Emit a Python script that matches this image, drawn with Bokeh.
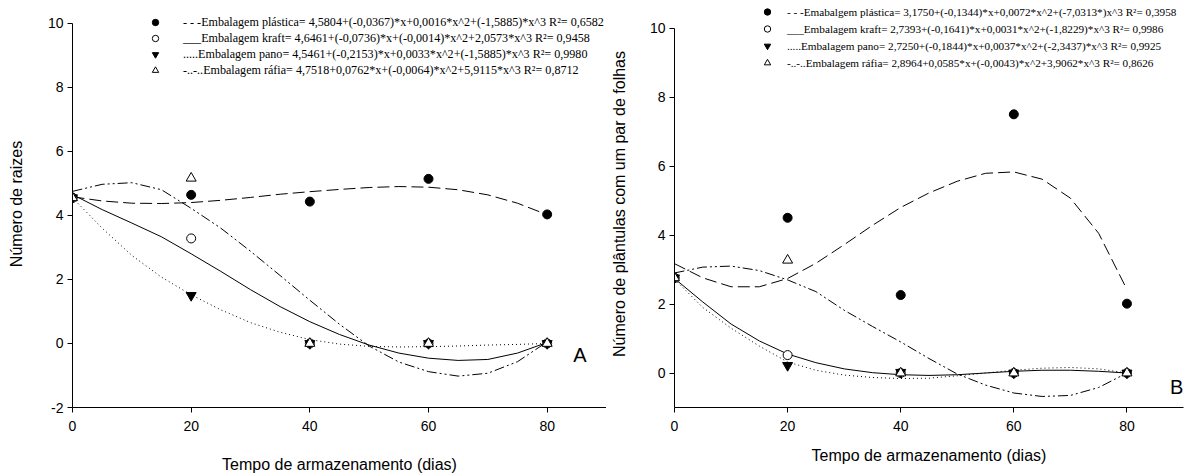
from bokeh.plotting import figure
from bokeh.layouts import row
from bokeh.models import Legend, LegendItem, Label, FixedTicker, Range1d
from bokeh.embed import file_html
from bokeh.resources import INLINE
from bokeh.core.properties import value

# ---------------- data ----------------
dias = [0, 20, 40, 60, 80]

# Panel A - Número de raizes (observed means)
a_plastica = [4.55, 4.64, 4.43, 5.14, 4.03]
a_kraft = [4.55, 3.28, 0.0, 0.0, 0.0]
a_pano = [4.55, 1.50, 0.0, 0.0, 0.0]
a_rafia = [4.55, 5.16, 0.0, 0.0, 0.0]

# Panel B - Número de plântulas com um par de folhas (observed means)
b_plastica = [2.76, 4.50, 2.26, 7.50, 2.01]
b_kraft = [2.76, 0.52, 0.0, 0.0, 0.0]
b_pano = [2.76, 0.22, 0.02, 0.0, 0.0]
b_rafia = [2.76, 3.27, 0.0, 0.0, 0.0]

# fitted curves, values every 5 days
curva_dias = [0, 5, 10, 15, 20, 25, 30, 35, 40, 45, 50, 55, 60, 65, 70, 75, 80]
a_fit_plastica = [4.58, 4.45, 4.38, 4.37, 4.40, 4.47, 4.56, 4.66, 4.74, 4.81, 4.87, 4.90, 4.88, 4.80, 4.64, 4.38, 4.02]
a_fit_kraft = [4.65, 4.18, 3.76, 3.33, 2.80, 2.25, 1.68, 1.15, 0.68, 0.28, -0.05, -0.30, -0.46, -0.53, -0.50, -0.30, 0.03]
a_fit_pano = [4.55, 3.60, 2.75, 2.07, 1.52, 1.05, 0.65, 0.35, 0.12, -0.02, -0.09, -0.11, -0.10, -0.08, -0.05, -0.03, 0.0]
a_fit_rafia = [4.75, 4.97, 5.02, 4.80, 4.22, 3.60, 2.88, 2.12, 1.35, 0.60, -0.08, -0.58, -0.88, -1.02, -0.93, -0.57, 0.05]

b_fit_plastica = [3.17, 2.76, 2.50, 2.50, 2.74, 3.18, 3.72, 4.28, 4.80, 5.22, 5.56, 5.79, 5.83, 5.62, 5.07, 4.05, 2.42]
b_fit_kraft = [2.74, 2.06, 1.42, 0.93, 0.55, 0.30, 0.12, 0.01, -0.05, -0.07, -0.05, 0.0, 0.05, 0.08, 0.08, 0.05, 0.0]
b_fit_pano = [2.72, 1.90, 1.30, 0.78, 0.32, 0.08, -0.06, -0.13, -0.16, -0.15, -0.08, 0.0, 0.08, 0.14, 0.16, 0.12, 0.0]
b_fit_rafia = [2.90, 3.07, 3.10, 2.97, 2.70, 2.36, 1.82, 1.35, 0.90, 0.42, -0.03, -0.35, -0.58, -0.68, -0.65, -0.42, 0.0]

x_ticks = [0, 20, 40, 60, 80]
a_y_ticks = [-2, 0, 2, 4, 6, 8, 10]
b_y_ticks = [0, 2, 4, 6, 8, 10]

legenda_a = [
    "- - -Embalagem plástica= 4,5804+(-0,0367)*x+0,0016*x^2+(-1,5885)*x^3 R²= 0,6582",
    "___Embalagem kraft= 4,6461+(-0,0736)*x+(-0,0014)*x^2+2,0573*x^3 R²= 0,9458",
    ".....Embalagem pano= 4,5461+(-0,2153)*x+0,0033*x^2+(-1,5885)*x^3 R²= 0,9980",
    "-..-..Embalagem ráfia= 4,7518+0,0762*x+(-0,0064)*x^2+5,9115*x^3 R²= 0,8712",
]
legenda_b = [
    "- - -Emabalgem plástica= 3,1750+(-0,1344)*x+0,0072*x^2+(-7,0313*)x^3 R²= 0,3958",
    "___Embalagem kraft= 2,7393+(-0,1641)*x+0,0031*x^2+(-1,8229)*x^3 R²= 0,9986",
    ".....Embalagem pano= 2,7250+(-0,1844)*x+0,0037*x^2+(-2,3437)*x^3 R²= 0,9925",
    "-..-..Embalagem ráfia= 2,8964+0,0585*x+(-0,0043)*x^2+3,9062*x^3 R²= 0,8626",
]

x_title = "Tempo de armazenamento (dias)"
a_y_title = "Número de raizes"
b_y_title = "Número de plântulas com um par de folhas"

FONT = "Liberation Sans"
NARROW = "Liberation Sans Narrow"

DASHES = ["12 5", "solid", "1 3", "10 3 2 3 2 3"]
MARKERS = [
    dict(marker="circle", size=9, fill_color="black"),
    dict(marker="circle", size=9, fill_color="white"),
    dict(marker="inverted_triangle", size=10, fill_color="black"),
    dict(marker="triangle", size=10, fill_color="white"),
]


def panel(width, height, left, right, bottom, y_range, y_bounds, y_ticks, y_title, y_title_standoff,
          x_title_standoff, points, fits, labels, leg_loc, leg_standoff, leg_row, leg_font,
          letter, letter_xy):
    p = figure(width=width, height=height, x_range=Range1d(0, 90), y_range=Range1d(*y_range),
               output_backend="svg", toolbar_location=None,
               min_border_left=left, min_border_right=right, min_border_top=0,
               min_border_bottom=bottom)
    p.outline_line_color = None
    p.grid.visible = False
    p.background_fill_color = "white"
    p.border_fill_color = "white"

    for ax in (p.xaxis[0], p.yaxis[0]):
        ax.axis_line_color = "black"
        ax.major_tick_line_color = "black"
        ax.minor_tick_line_color = None
        ax.major_tick_in = 0
        ax.major_tick_out = 5
        ax.major_label_text_font = FONT
        ax.major_label_text_font_size = "14px"
        ax.major_label_text_color = "black"
        ax.axis_label_text_font = FONT
        ax.axis_label_text_font_size = "16px"
        ax.axis_label_text_font_style = "normal"
        ax.axis_label_text_color = "black"

    p.xaxis.ticker = FixedTicker(ticks=x_ticks)
    p.xaxis.major_label_standoff = 8
    p.xaxis.axis_label = x_title
    p.xaxis.axis_label_standoff = x_title_standoff

    p.yaxis.ticker = FixedTicker(ticks=y_ticks)
    p.yaxis.major_label_overrides = {-2: "-2"}
    p.yaxis.bounds = y_bounds
    p.yaxis.major_label_standoff = 4
    p.yaxis.axis_label = y_title
    p.yaxis.axis_label_standoff = y_title_standoff

    for fit, dash in zip(fits, DASHES):
        p.line(curva_dias, fit, line_color="black", line_width=1, line_dash=dash)

    rends = []
    for ys, m in zip(points, MARKERS):
        r = p.scatter(dias, ys, line_color="black", line_width=1, **m)
        rends.append(r)

    items = [LegendItem(label=value(lab), renderers=[r]) for lab, r in zip(labels, rends)]
    leg = Legend(items=items, location=leg_loc, orientation="vertical", padding=0, margin=0,
                 spacing=0, glyph_width=16, glyph_height=leg_row, label_height=leg_row,
                 label_standoff=leg_standoff, border_line_color=None,
                 background_fill_alpha=0, label_text_font=NARROW,
                 label_text_font_size=leg_font, label_text_color="black")
    p.add_layout(leg)

    p.add_layout(Label(x=letter_xy[0], y=letter_xy[1], text=letter, text_font=FONT,
                       text_font_size="20px", text_align="center", text_baseline="middle",
                       text_color="black"))
    return p


pa = panel(606, 475, 72, 0, 68, (-2, 10.71), (-2, 10), a_y_ticks, a_y_title, 20, 22,
           [a_plastica, a_kraft, a_pano, a_rafia],
           [a_fit_plastica, a_fit_kraft, a_fit_pano, a_fit_rafia],
           legenda_a, (75, 329), 20, 16, "12.1px", "A", (85.5, -0.35))

pb = panel(585, 475, 68, 8, 62, (-1, 10.8), (-1, 10), b_y_ticks, b_y_title, 19, 13,
           [b_plastica, b_kraft, b_pano, b_rafia],
           [b_fit_plastica, b_fit_kraft, b_fit_pano, b_fit_rafia],
           legenda_b, (85, 336), 12, 17, "11.2px", "B", (88.8, -0.4))

layout = row(pa, pb)
open("out.html", "w").write(file_html(layout, INLINE))
